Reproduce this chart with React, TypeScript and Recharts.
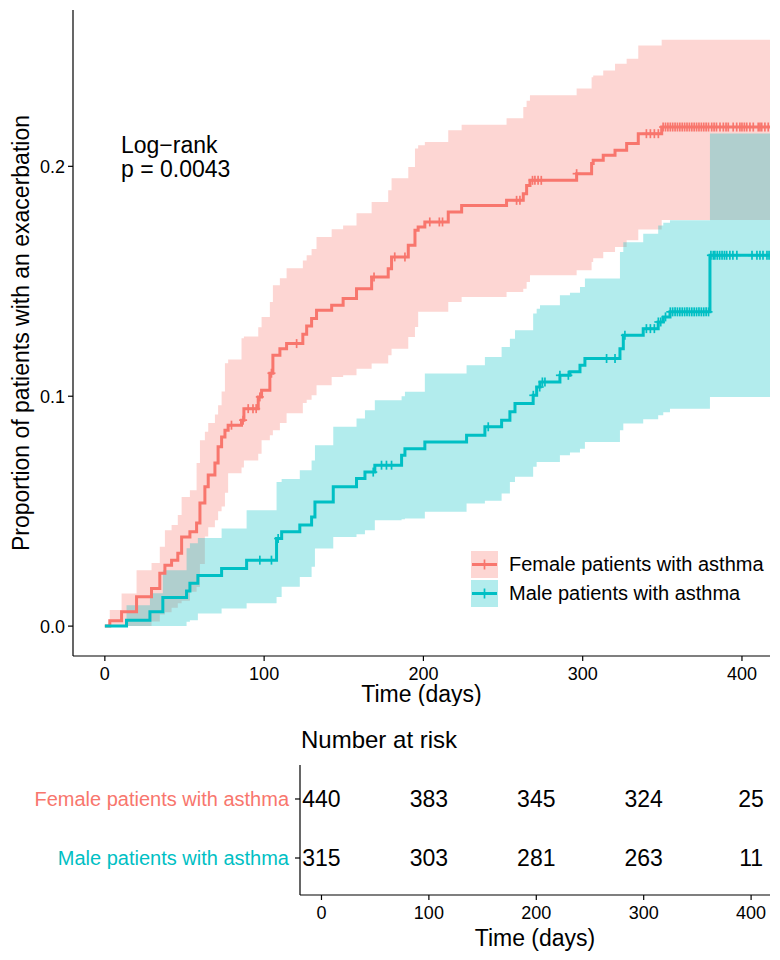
import React from 'react';
import { ComposedChart, Line, Area, Scatter, XAxis, YAxis, Label } from 'recharts';

const FEMALE = '#F8766D';
const MALE = '#00BFC4';
const FONT = '"Liberation Sans", Arial, Helvetica, sans-serif';
const NARROW = '"Liberation Sans Narrow", "Liberation Sans", Arial, sans-serif';

const groups = ['Female patients with asthma', 'Male patients with asthma'];

// cumulative incidence (1 - KM): event times in days, estimate, 95% CI
const femaleTime = [0, 3.1, 10.5, 19.9, 29.3, 34.5, 37.7, 41.9, 45.8, 48.2, 53.4, 57.6, 59.7, 62.8, 64.9, 69.1, 71.1, 73.3, 75.4, 77.4, 85.8, 87.3, 96.3, 98.4, 103.6, 105.5, 109.9, 114.1, 124.3, 126.7, 129.8, 132.9, 142.4, 149.6, 158, 167.5, 177.9, 180, 190.5, 194.7, 196.7, 200.9, 215.6, 224, 252.2, 262.7, 264.8, 266.9, 296.2, 305.6, 306.6, 312.9, 320.3, 327.6, 334.9, 349.6];
const femaleEst = [0, 0.0023, 0.0062, 0.0128, 0.0164, 0.023, 0.0265, 0.0287, 0.0317, 0.0388, 0.041, 0.0448, 0.0535, 0.0606, 0.0657, 0.0709, 0.078, 0.0823, 0.0852, 0.0874, 0.0896, 0.0946, 0.0997, 0.1026, 0.11, 0.1178, 0.1207, 0.1229, 0.127, 0.1305, 0.1338, 0.1374, 0.1396, 0.1425, 0.1468, 0.1519, 0.1555, 0.1606, 0.1657, 0.1722, 0.1736, 0.1758, 0.1801, 0.183, 0.1852, 0.1881, 0.1917, 0.1939, 0.1968, 0.2012, 0.2026, 0.2048, 0.207, 0.2099, 0.2142, 0.2171];
const femaleLow = [0, 0, 0, 0, 0.002, 0.005, 0.006, 0.008, 0.01, 0.011, 0.015, 0.017, 0.027, 0.039, 0.043, 0.046, 0.05, 0.052, 0.058, 0.0665, 0.069, 0.072, 0.075, 0.0809, 0.083, 0.0852, 0.0883, 0.0926, 0.097, 0.0985, 0.1004, 0.1048, 0.1084, 0.1091, 0.112, 0.1142, 0.1178, 0.1207, 0.1258, 0.1301, 0.1367, 0.1367, 0.141, 0.1432, 0.1453, 0.1468, 0.1497, 0.1526, 0.1548, 0.1584, 0.16, 0.1627, 0.1649, 0.1678, 0.1725, 0.1767];
const femaleHigh = [0, 0.007, 0.0142, 0.0243, 0.0274, 0.0345, 0.0417, 0.044, 0.0483, 0.0562, 0.0591, 0.0709, 0.0809, 0.0845, 0.0883, 0.092, 0.0961, 0.102, 0.1143, 0.116, 0.1252, 0.126, 0.13, 0.1345, 0.141, 0.1483, 0.1513, 0.1557, 0.159, 0.1613, 0.164, 0.1693, 0.1726, 0.1743, 0.1796, 0.1845, 0.1896, 0.1948, 0.1997, 0.2078, 0.2092, 0.2106, 0.2157, 0.2181, 0.2209, 0.2258, 0.2285, 0.2309, 0.2338, 0.2388, 0.2395, 0.2417, 0.2446, 0.2468, 0.2526, 0.2551];
const femaleCensor = [79.5, 86.8, 90, 93, 95, 97.3, 104.6, 120.4, 169, 182, 188.4, 204, 210, 212, 258.5, 260.6, 268.5, 270, 272, 274, 296.2, 340, 342.5, 345, 347.5, 350.5, 352, 353.5, 355, 356.5, 358, 359.5, 361, 362.5, 364, 365.5, 367, 368.5, 370, 371.5, 373, 374.5, 376, 377.5, 379, 381, 382.5, 384, 386.2, 388.3, 390, 391.4, 394.5, 396.7, 398.7, 400, 401.5, 403, 405, 407.1, 410.2, 411.3, 412.4, 414.4, 416.5];

const maleTime = [0, 13.6, 28.3, 36.4, 51.3, 53.4, 58.4, 73.3, 89, 107.8, 111, 122.4, 129.8, 131.9, 143.4, 158, 163.3, 169.5, 186.3, 188.4, 200.9, 227.1, 238.6, 249.1, 254.3, 257.5, 268.9, 271.1, 273.2, 285.7, 292, 298.3, 301.4, 323.4, 325.5, 338, 347.4, 350.6, 354.8, 379.9];
const maleEst = [0, 0.0026, 0.0062, 0.0125, 0.0153, 0.0186, 0.022, 0.0251, 0.0287, 0.0381, 0.041, 0.044, 0.0475, 0.054, 0.0606, 0.0642, 0.067, 0.07, 0.0743, 0.0772, 0.0801, 0.083, 0.0867, 0.0896, 0.0932, 0.0968, 0.1004, 0.104, 0.1062, 0.1091, 0.1106, 0.1135, 0.1164, 0.1207, 0.1265, 0.1294, 0.1323, 0.1345, 0.1367, 0.1613];
const maleLow = [0, 0, 0, 0, 0.0019, 0.0025, 0.0055, 0.0077, 0.01, 0.0127, 0.0171, 0.0214, 0.0258, 0.0338, 0.0388, 0.04, 0.0417, 0.0461, 0.0465, 0.0468, 0.0497, 0.0533, 0.0545, 0.0577, 0.0627, 0.065, 0.0693, 0.0714, 0.0714, 0.0743, 0.0755, 0.0772, 0.0801, 0.0852, 0.0881, 0.09, 0.0917, 0.093, 0.0946, 0.0997];
const maleHigh = [0, 0.0091, 0.0143, 0.0243, 0.0339, 0.036, 0.0383, 0.0425, 0.0504, 0.0627, 0.064, 0.0678, 0.072, 0.0787, 0.0867, 0.0903, 0.0939, 0.0983, 0.1, 0.1019, 0.1099, 0.1135, 0.1171, 0.1214, 0.125, 0.1287, 0.136, 0.138, 0.1396, 0.1439, 0.145, 0.1475, 0.1512, 0.1627, 0.167, 0.1707, 0.1743, 0.1755, 0.1765, 0.2143];
const maleCensor = [97.3, 104.6, 108.8, 168.5, 173.7, 176.8, 180, 240.7, 269, 273, 274.7, 276.3, 285.7, 291, 315, 320.3, 326.5, 340, 342.5, 345, 347.5, 349, 352, 355, 356.5, 358, 359.5, 361, 362.5, 364, 365.5, 367, 368.5, 370, 371.5, 373, 374.5, 376, 377.5, 379, 380.5, 382, 383, 384.5, 386, 387.5, 389, 390.4, 392.4, 394.3, 396.8, 406.3, 409.4, 411.3, 413.2, 415.7, 417];

const END_DAY = 417.6;
const xTicks = [0, 100, 200, 300, 400];
const yTicks = [0, 0.1, 0.2];

// number at risk table
const riskTimes = [0, 100, 200, 300, 400];
const femaleRisk = [440, 383, 345, 324, 25];
const maleRisk = [315, 303, 281, 263, 11];

const toRows = (t: number[], est: number[], lo: number[], hi: number[]) => {
  const rows = t.map((x, i) => ({ time: x, est: est[i], band: [lo[i], hi[i]] }));
  const last = rows[rows.length - 1];
  rows.push({ time: END_DAY, est: last.est, band: last.band });
  return rows;
};

const stepValue = (t: number[], est: number[], x: number) => {
  let v = 0;
  t.forEach((tt, i) => {
    if (tt <= x) v = est[i];
  });
  return v;
};

const censorRows = (c: number[], t: number[], est: number[]) =>
  c.map((x) => ({ time: x, est: stepValue(t, est, x) }));

const femaleRows = toRows(femaleTime, femaleEst, femaleLow, femaleHigh);
const maleRows = toRows(maleTime, maleEst, maleLow, maleHigh);
const femaleCens = censorRows(femaleCensor, femaleTime, femaleEst);
const maleCens = censorRows(maleCensor, maleTime, maleEst);

const riskRows = [
  ...riskTimes.map((t, i) => ({ time: t, row: 2, n: femaleRisk[i] })),
  ...riskTimes.map((t, i) => ({ time: t, row: 1, n: maleRisk[i] })),
];

const PlusMark = (color: string) => (props: any) => {
  const { cx, cy } = props;
  if (cx == null || cy == null) return <g />;
  return (
    <g stroke={color} strokeWidth={1.7}>
      <line x1={cx - 4} x2={cx + 4} y1={cy} y2={cy} />
      <line x1={cx} x2={cx} y1={cy - 4.5} y2={cy + 4.5} />
    </g>
  );
};

const RiskNumber = (props: any) => {
  const { cx, cy, payload } = props;
  return (
    <text x={cx} y={cy} textAnchor="middle" dominantBaseline="central" fontSize={23} fontFamily={NARROW} fill="#000">
      {payload.n}
    </text>
  );
};

const RowTick = (props: any) => {
  const { x, y, payload } = props;
  const female = payload.value === 2;
  return (
    <text x={x} y={y} textAnchor="end" dominantBaseline="central" fontSize={20} fontFamily={FONT} fill={female ? FEMALE : MALE}>
      {female ? groups[0] : groups[1]}
    </text>
  );
};

const XTitle = (props: any) => {
  const vb = props.viewBox;
  return (
    <text x={vb.x + vb.width / 2} y={vb.y + props.baseline} textAnchor="middle" fontSize={23} fontFamily={FONT} fill="#000">
      Time (days)
    </text>
  );
};

const YTitle = (props: any) => {
  const vb = props.viewBox;
  const cx = 21;
  const cy = vb.y + vb.height / 2;
  return (
    <text x={cx} y={cy} transform={`rotate(-90, ${cx}, ${cy})`} textAnchor="middle" dominantBaseline="central" fontSize={23} fontFamily={FONT} fill="#000">
      Proportion of patients with an exacerbation
    </text>
  );
};

const RiskTitle = (props: any) => {
  const vb = props.viewBox;
  return (
    <text x={vb.x + vb.width + 1} y={vb.y - 17} fontSize={24} fontFamily={FONT} fill="#000">
      Number at risk
    </text>
  );
};

const LegendBox = () => (
  <div style={{ position: 'absolute', left: 471, top: 551, fontFamily: FONT, fontSize: 20, color: '#000' }}>
    {groups.map((g, i) => {
      const color = i === 0 ? FEMALE : MALE;
      return (
        <div key={g} style={{ display: 'flex', alignItems: 'center', height: 27, marginBottom: 2, whiteSpace: 'nowrap' }}>
          <svg width={27} height={27} style={{ marginRight: 11 }}>
            <rect x={0} y={0} width={27} height={27} fill={color} fillOpacity={0.3} />
            <line x1={1} x2={26} y1={13.5} y2={13.5} stroke={color} strokeWidth={3} />
            <line x1={13.5} x2={13.5} y1={8.5} y2={18.5} stroke={color} strokeWidth={1.7} />
          </svg>
          <span>{g}</span>
        </div>
      );
    })}
  </div>
);

const axisStyle = { stroke: '#000', strokeWidth: 1.2 };
const tickStyle = { fontSize: 18, fill: '#000', fontFamily: FONT };

export default function App() {
  return (
    <div style={{ position: 'absolute', left: 0, top: 0, width: 780, height: 960, background: '#fff', fontFamily: FONT }}>
      <div style={{ position: 'absolute', left: 0, top: 0 }}>
        <ComposedChart width={780} height={706} margin={{ top: 10, right: 10, bottom: 0, left: 0 }}>
          <XAxis
            dataKey="time"
            type="number"
            domain={[-20, END_DAY]}
            ticks={xTicks}
            allowDataOverflow
            height={50}
            tickSize={5}
            tickMargin={6}
            axisLine={axisStyle}
            tickLine={axisStyle}
            tick={tickStyle}
          >
            <Label content={<XTitle baseline={46} />} />
          </XAxis>
          <YAxis
            type="number"
            domain={[-0.013, 0.268]}
            ticks={yTicks}
            allowDataOverflow
            width={73}
            tickSize={5}
            tickMargin={3}
            axisLine={axisStyle}
            tickLine={axisStyle}
            tick={tickStyle}
            tickFormatter={(v: number) => v.toFixed(1)}
          >
            <Label content={<YTitle />} />
          </YAxis>
          <Area data={femaleRows} dataKey="band" type="stepAfter" stroke="none" fill={FEMALE} fillOpacity={0.3} isAnimationActive={false} />
          <Area data={maleRows} dataKey="band" type="stepAfter" stroke="none" fill={MALE} fillOpacity={0.3} isAnimationActive={false} />
          <Line data={femaleRows} dataKey="est" type="stepAfter" stroke={FEMALE} strokeWidth={3} dot={false} isAnimationActive={false} />
          <Line data={maleRows} dataKey="est" type="stepAfter" stroke={MALE} strokeWidth={3} dot={false} isAnimationActive={false} />
          <Scatter data={femaleCens} dataKey="est" shape={PlusMark(FEMALE)} isAnimationActive={false} />
          <Scatter data={maleCens} dataKey="est" shape={PlusMark(MALE)} isAnimationActive={false} />
        </ComposedChart>
      </div>

      <LegendBox />

      <div style={{ position: 'absolute', left: 121, top: 133, fontSize: 23, lineHeight: '24px', color: '#000' }}>
        <div>Log−rank</div>
        <div>p = 0.0043</div>
      </div>

      <div style={{ position: 'absolute', left: 0, top: 706 }}>
        <ComposedChart width={780} height={254} data={riskRows} margin={{ top: 59, right: 10, bottom: 0, left: 0 }}>
          <XAxis
            dataKey="time"
            type="number"
            domain={[-20, END_DAY]}
            ticks={xTicks}
            allowDataOverflow
            height={65}
            tickSize={5}
            tickMargin={6}
            axisLine={axisStyle}
            tickLine={axisStyle}
            tick={tickStyle}
          >
            <Label content={<XTitle baseline={51} />} />
          </XAxis>
          <YAxis
            type="number"
            domain={[0.373, 2.576]}
            ticks={[1, 2]}
            allowDataOverflow
            width={300}
            tickSize={5}
            tickMargin={6}
            axisLine={axisStyle}
            tickLine={axisStyle}
            tick={<RowTick />}
          >
            <Label content={<RiskTitle />} />
          </YAxis>
          <Scatter dataKey="row" shape={<RiskNumber />} isAnimationActive={false} />
        </ComposedChart>
      </div>
    </div>
  );
}
